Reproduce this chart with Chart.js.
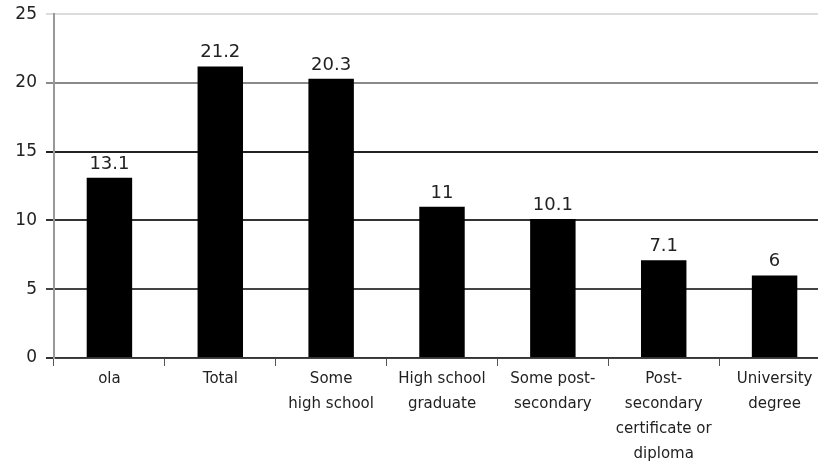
<!DOCTYPE html>
<html>
<head>
<meta charset="utf-8">
<script src="https://cdn.jsdelivr.net/npm/chart.js@4"></script>
<style>
  html, body { margin: 0; padding: 0; background: #fff; overflow: hidden; }
  #wrap { width: 818px; height: 464px; overflow: hidden; position: relative; }
  canvas { display: block; position: absolute; left: 0; top: -5px; }
</style>
</head>
<body>
<div id="wrap"><canvas id="c" width="830" height="469"></canvas></div>
<script>
// Categories (multi-line labels) and values
const categories = [
  ["ola"],
  ["Total"],
  ["Some", "high school"],
  ["High school", "graduate"],
  ["Some post-", "secondary"],
  ["Post-", "secondary", "certificate or", "diploma"],
  ["University", "degree"]
];
const values = [13.1, 21.2, 20.3, 11, 10.1, 7.1, 6];
const yTicks = [0, 5, 10, 15, 20, 25];

// Gridline shade per value
const gridShade = { 0: "#333", 5: "#444", 10: "#333", 15: "#222", 20: "#8a8a8a", 25: "#dcdcdc" };

// Value labels drawn above each bar
const barValueLabels = {
  id: "barValueLabels",
  afterDatasetsDraw(chart) {
    const ctx = chart.ctx;
    const meta = chart.getDatasetMeta(0);
    ctx.save();
    ctx.font = "18px 'DejaVu Sans'";
    ctx.fillStyle = "#222";
    ctx.textAlign = "center";
    ctx.textBaseline = "alphabetic";
    meta.data.forEach((bar, i) => {
      ctx.fillText(String(values[i]), bar.x, bar.y - 9);
    });
    ctx.restore();
  }
};

new Chart(document.getElementById("c"), {
  type: "bar",
  data: {
    labels: categories,
    datasets: [{
      data: values,
      backgroundColor: "#000",
      borderColor: "#000",
      borderWidth: 0,
      categoryPercentage: 1,
      barPercentage: 0.41
    }]
  },
  options: {
    responsive: false,
    animation: false,
    layout: { padding: { top: 3, right: 0, left: 0, bottom: 0 } },
    plugins: { legend: { display: false }, tooltip: { enabled: false } },
    scales: {
      x: {
        offset: true,
        grid: {
          display: true,
          offset: true,
          drawOnChartArea: false,
          drawTicks: true,
          tickLength: 8,
          color: "#555",
          lineWidth: 1
        },
        border: { display: true, color: "#444", width: 1 },
        ticks: {
          maxRotation: 0,
          autoSkip: false,
          color: "#222",
          padding: 1,
          font: { family: "'DejaVu Sans'", size: 15, lineHeight: 1.65 }
        },
        afterFit(scale) { scale.height = 106; }
      },
      y: {
        min: 0,
        max: 25,
        afterBuildTicks(scale) { scale.ticks = yTicks.map(v => ({ value: v })); },
        grid: {
          color: ctx => gridShade[ctx.tick ? ctx.tick.value : 0] || "#444",
          lineWidth: 2,
          tickLength: 8
        },
        border: { display: true, color: "#999", width: 2 },
        ticks: {
          color: "#222",
          padding: 9,
          font: { family: "'DejaVu Sans'", size: 17 }
        },
        afterFit(scale) { scale.width = 54; }
      }
    }
  },
  plugins: [barValueLabels]
});
</script>
</body>
</html>
